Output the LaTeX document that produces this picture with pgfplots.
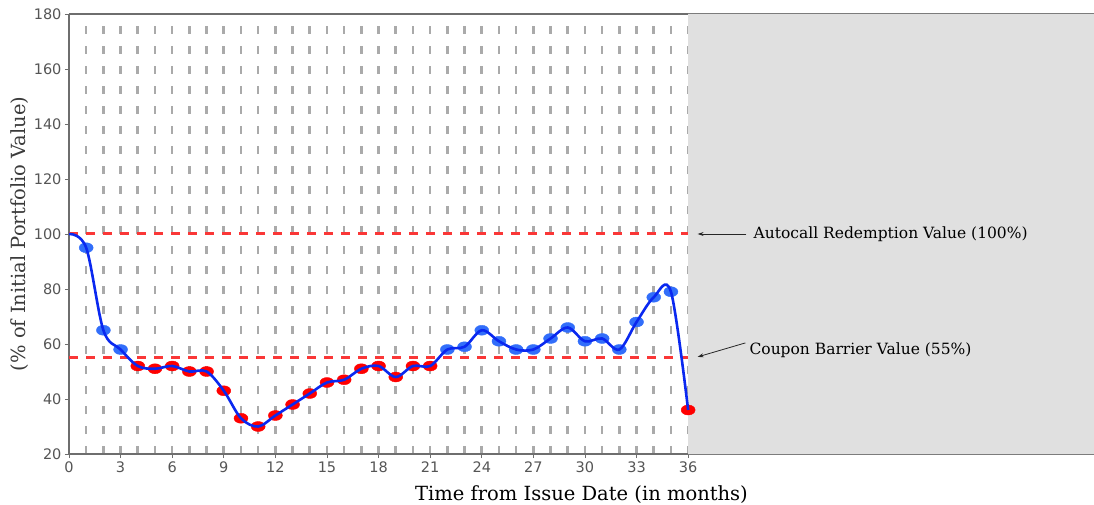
\documentclass[border=0pt]{standalone}
\usepackage{fontspec}
\setmainfont{DejaVu Serif}
\setsansfont{DejaVu Sans}
\usepackage{pgfplots}
\usepackage{pgfplotstable}
\pgfplotsset{compat=1.18}
\usetikzlibrary{arrows.meta}

\definecolor{gridgray}{RGB}{170,170,170}
\definecolor{shade}{RGB}{224,224,224}
\definecolor{axisgray}{RGB}{110,110,110}
\definecolor{labgray}{RGB}{85,85,85}
\definecolor{curveblue}{RGB}{10,40,240}
\definecolor{dotblue}{RGB}{50,110,250}
\definecolor{barrierred}{RGB}{250,55,55}

% portfolio value at each monthly observation
\pgfplotstableread{
m v
0 100
1 95
2 65
3 58
4 52
5 51
6 52
7 50
8 50
9 43
10 33
11 30
12 34
13 38
14 42
15 46
16 47
17 51
18 52
19 48
20 52
21 52
22 58
23 59
24 65
25 61
26 58
27 58
28 62
29 66
30 61
31 62
32 58
33 68
34 77
35 79
36 36
}\valuetable

\begin{document}
\begin{tikzpicture}
\begin{axis}[
    scale only axis,
    width=1025pt, height=440pt,
    xmin=0, xmax=59.6,
    ymin=20, ymax=180,
    clip=false,
    clip marker paths=true,
    axis x line*=box,
    axis y line*=left,
    xtick pos=bottom,
    axis line style={axisgray, line width=1.2pt},
    xtick={0,3,...,36},
    ytick={20,40,...,180},
    minor xtick={1,2,...,36},
    xminorgrids,
    minor grid style={gridgray, line width=2.6pt, dash pattern=on 8pt off 12pt},
    minor tick length=0pt,
    major tick length=4pt,
    tick align=outside,
    tick style={axisgray, line width=0.8pt},
    /pgf/number format/assume math mode=true,
    ticklabel style={font=\sffamily\fontsize{14.5}{16}\selectfont, text=labgray},
    xlabel={Time from Issue Date (in months)},
    ylabel={(\% of Initial Portfolio Value)},
    xlabel style={font=\fontsize{19.5}{22}\selectfont, at={(axis description cs:0.5,0)}, anchor=base, yshift=-46pt},
    ylabel style={font=\fontsize{19.5}{22}\selectfont, text=labgray!70!black, at={(axis description cs:0,0.5)}, anchor=center, yshift=49pt},
]
\coordinate (SW) at (rel axis cs:0,0);

% months after maturity
\addplot[draw=none, fill=shade]
    coordinates {(36,20) (59.6,20) (59.6,180) (36,180)} \closedcycle;

% autocall and coupon barrier levels
\addplot[barrierred, line width=2.6pt, dash pattern=on 9pt off 8pt]
    coordinates {(0,100.1) (36,100.1)};
\addplot[barrierred, line width=2.6pt, dash pattern=on 9pt off 8pt]
    coordinates {(0,55) (36,55)};

% observations above the coupon barrier
\addplot[only marks, mark=*, mark size=5pt, mark options={xscale=1.4, draw=dotblue, fill=dotblue}]
    coordinates {(1,95) (2,65) (3,58) (22,58) (23,59) (24,65) (25,61) (26,58) (27,58)
                 (28,62) (29,66) (30,61) (31,62) (32,58) (33,68) (34,77) (35,79)};
% observations below the coupon barrier
\addplot[only marks, mark=*, mark size=5pt, mark options={xscale=1.4, draw=red, fill=red}]
    coordinates {(4,52) (5,51) (6,52) (7,50) (8,50) (9,43) (10,33) (11,30) (12,34) (13,38)
                 (14,42) (15,46) (16,47) (17,51) (18,52) (19,48) (20,52) (21,52) (36,36)};

\addplot[curveblue, line width=2.6pt, smooth, tension=0.55, no markers] table[x=m, y=v] {\valuetable};

\draw[-{Stealth[length=6pt, width=4pt]}, line width=0.8pt, black!85]
    (axis cs:39.38,100) -- (axis cs:36.55,100);
\draw[-{Stealth[length=6pt, width=4pt]}, line width=0.8pt, black!85]
    (axis cs:39.33,60.4) -- (axis cs:36.55,55.3);
\node[anchor=west, font=\fontsize{15.5}{17}\selectfont, inner sep=0pt] at (axis cs:39.8,100)
    {Autocall Redemption Value (100\%)};
\node[anchor=west, font=\fontsize{15.5}{17}\selectfont, inner sep=0pt] at (axis cs:39.56,57.8)
    {Coupon Barrier Value (55\%)};
\end{axis}
\pgfresetboundingbox
\path (SW) ++(-69pt,-50pt) rectangle ++(1094pt,504pt);
\end{tikzpicture}
\end{document}
